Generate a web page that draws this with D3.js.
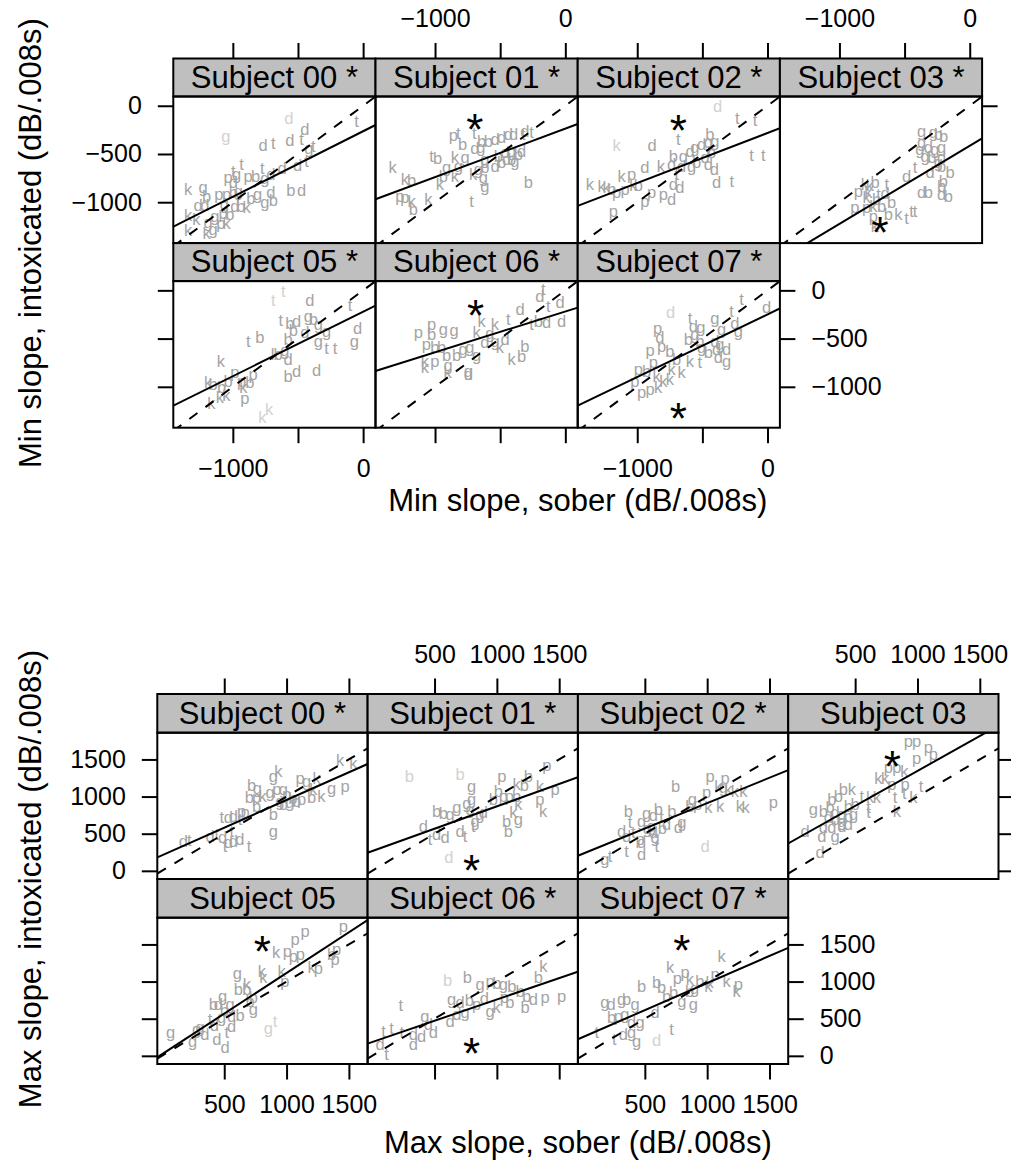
<!DOCTYPE html>
<html>
<head>
<meta charset="utf-8">
<script src="https://cdn.jsdelivr.net/npm/d3@7"></script>
<style>
  body { margin: 0; background: #fff; }
  svg { display: block; font-family: "Liberation Sans", Arial, Helvetica, sans-serif; }
</style>
</head>
<body>
<svg id="chart" width="1011" height="1175"></svg>
<script>
// ---------- Minimum slope: sober (x) vs intoxicated (y), one array per subject ----------
// [sober, intoxicated, token letter, faint flag]
const minStrips = ["Subject 00 *", "Subject 01 *", "Subject 02 *", "Subject 03 *",
                   "Subject 05 *", "Subject 06 *", "Subject 07 *"];
const minXTicks = [-1000, -500, 0];
const minXTickLabels = ["\u22121000", "", "0"];
const minYTicks = [-1000, -500, 0];
const minYTickLabels = ["\u22121000", "\u2212500", "0"];

const minS00 = [[-570,-142,"d",1],[-1053,-329,"g",1],[-50,-165,"t"],[-447,-252,"d"],[-767,-418,"d"],[-690,-397,"t"],
  [-562,-362,"d"],[-472,-356,"t"],[-416,-453,"g"],[-383,-432,"t"],[-933,-615,"t"],[-997,-684,"t"],[-971,-719,"g"],
  [-1036,-753,"p"],[-882,-743,"p"],[-826,-736,"b"],[-774,-660,"t"],[-754,-763,"g"],[-708,-718,"d"],[-621,-660,"d"],
  [-503,-625,"d"],[-434,-580,"t"],[-1343,-874,"k"],[-1228,-857,"g"],[-1202,-943,"b"],[-1107,-926,"p"],[-1048,-926,"p"],
  [-997,-902,"b"],[-958,-891,"g"],[-997,-805,"d"],[-862,-971,"b"],[-810,-926,"g"],[-708,-909,"d"],[-554,-881,"b"],
  [-472,-881,"d"],[-754,-1012,"g"],[-690,-985,"b"],[-895,-1064,"k"],[-1266,-1040,"d"],[-1215,-1040,"d"],[-1066,-1030,"g"],
  [-984,-1047,"d"],[-938,-1047,"b"],[-1343,-1144,"k"],[-1343,-1296,"k"],[-1189,-1220,"g"],[-1151,-1289,"g"],
  [-1202,-1330,"k"],[-1092,-1227,"p"],[-1048,-1227,"k"],[-1023,-1133,"b"],[-1138,-1151,"g"],[-1074,-1123,"p"],[-1279,-1186,"k"]];
const minS01 = [[-860,-314,"p"],[-822,-294,"t"],[-699,-294,"t"],[-643,-373,"b"],[-591,-373,"b"],[-540,-356,"d"],
  [-489,-338,"d"],[-438,-304,"d"],[-398,-304,"d"],[-323,-304,"t"],[-310,-270,"d"],[-259,-287,"t"],[-788,-408,"b"],
  [-648,-442,"g"],[-694,-453,"d"],[-1027,-528,"t"],[-980,-556,"b"],[-847,-546,"k"],[-770,-546,"g"],[-1326,-649,"k"],
  [-1231,-771,"k"],[-1180,-778,"b"],[-1270,-950,"p"],[-1231,-960,"p"],[-1180,-995,"k"],[-1167,-1082,"b"],[-1052,-978,"k"],
  [-911,-649,"g"],[-937,-735,"b"],[-847,-735,"k"],[-962,-822,"k"],[-822,-632,"g"],[-617,-563,"g"],[-515,-528,"b"],
  [-463,-494,"d"],[-412,-477,"g"],[-361,-511,"b"],[-335,-477,"d"],[-412,-563,"b"],[-387,-580,"g"],[-668,-666,"g"],
  [-617,-649,"b"],[-707,-718,"k"],[-630,-753,"g"],[-617,-839,"g"],[-719,-995,"t"],[-284,-805,"b"],[-540,-632,"d"],
  [-489,-598,"b"],[-450,-563,"d"]];
const minS02 = [[-383,-10,"d",1],[-232,-141,"t"],[-96,-155,"t"],[-1158,-418,"k",1],[-885,-418,"d"],[-685,-356,"t"],
  [-122,-522,"t"],[-32,-522,"t"],[-442,-304,"b"],[-723,-528,"b"],[-646,-528,"g"],[-595,-477,"d"],[-557,-442,"g"],
  [-506,-408,"d"],[-455,-390,"g"],[-404,-373,"g"],[-429,-494,"b"],[-480,-546,"d"],[-544,-598,"b"],[-583,-632,"g"],
  [-659,-632,"d"],[-818,-632,"k"],[-736,-615,"d"],[-455,-615,"d"],[-408,-666,"d"],[-697,-718,"t"],[-941,-649,"d"],
  [-723,-822,"d"],[-672,-857,"d"],[-391,-805,"d"],[-275,-788,"t"],[-1043,-718,"p"],[-1119,-735,"k"],[-1363,-822,"k"],
  [-1274,-839,"k"],[-1235,-857,"k"],[-1197,-874,"b"],[-1158,-909,"p"],[-1094,-874,"p"],[-1030,-833,"k"],[-992,-833,"b"],
  [-890,-909,"p"],[-941,-995,"p"],[-800,-926,"p"],[-736,-978,"d"],[-1184,-1099,"p"]];
const minS03 = [[-369,-269,"g"],[-279,-280,"g"],[-241,-304,"b"],[-200,-320,"b"],[-369,-390,"g"],[-382,-459,"g"],
  [-318,-442,"d"],[-267,-459,"g"],[-215,-442,"g"],[-343,-529,"g"],[-290,-546,"b"],[-215,-546,"d"],[-241,-598,"g"],
  [-420,-649,"t"],[-484,-743,"d"],[-305,-701,"d"],[-215,-632,"b"],[-151,-701,"b"],[-202,-788,"b"],[-215,-839,"b"],
  [-369,-909,"d"],[-318,-902,"b"],[-215,-926,"d"],[-164,-943,"b"],[-855,-891,"p"],[-804,-822,"k"],[-766,-833,"k"],
  [-727,-805,"b"],[-637,-822,"t"],[-881,-1064,"p"],[-791,-1064,"p"],[-740,-1047,"k"],[-791,-960,"k"],[-714,-978,"b"],
  [-676,-1047,"b"],[-599,-1012,"b"],[-548,-1134,"k"],[-484,-1178,"t"],[-446,-1099,"t"],[-420,-1099,"t"],[-740,-1151,"p"],
  [-727,-1255,"k"],[-625,-1133,"b"],[-778,-909,"k"],[-700,-930,"t"],[-650,-920,"d"]];
const minS05 = [[-690,-111,"t",1],[-613,-14,"t",1],[-408,-111,"d"],[-101,-159,"t"],[-42,-401,"d"],[-68,-540,"g"],
  [-280,-609,"t"],[-216,-609,"t"],[-344,-540,"g"],[-631,-318,"t"],[-562,-353,"b"],[-511,-325,"d"],[-421,-273,"g"],
  [-383,-308,"b"],[-344,-360,"g"],[-536,-422,"b"],[-280,-436,"g"],[-447,-446,"d"],[-575,-516,"b"],[-882,-540,"t"],
  [-792,-498,"b"],[-1092,-748,"k"],[-677,-671,"k"],[-652,-671,"b"],[-600,-630,"g"],[-575,-723,"d"],[-575,-896,"b"],
  [-511,-844,"d"],[-357,-837,"d"],[-984,-862,"p"],[-1189,-965,"k"],[-1151,-982,"b"],[-1087,-1017,"b"],[-1036,-948,"b"],
  [-933,-948,"p"],[-869,-965,"b"],[-844,-879,"p"],[-920,-1017,"k"],[-907,-1128,"p"],[-1164,-1183,"k"],[-1100,-1121,"k"],
  [-1050,-1100,"k"],[-774,-1329,"k",1],[-722,-1242,"k",1]];
const minS06 = [[-169,5,"t"],[-195,-65,"d"],[-131,-169,"t"],[-41,-135,"d"],[-348,-204,"d"],[-438,-308,"t"],
  [-259,-360,"t"],[-207,-325,"b"],[-143,-339,"d"],[-28,-329,"d"],[-1129,-446,"p"],[-1027,-360,"p"],[-1027,-467,"b"],
  [-937,-412,"g"],[-853,-422,"g"],[-1066,-571,"p"],[-1001,-602,"b"],[-950,-600,"b"],[-1078,-741,"k"],[-1001,-741,"p"],
  [-912,-685,"b"],[-835,-685,"b"],[-784,-616,"g"],[-1078,-810,"k"],[-899,-789,"g"],[-904,-862,"k"],[-732,-595,"g"],
  [-681,-685,"g"],[-643,-325,"k"],[-540,-360,"k"],[-681,-446,"k"],[-579,-456,"g"],[-617,-550,"d"],[-540,-533,"g"],
  [-463,-516,"d"],[-502,-602,"k"],[-412,-723,"k"],[-310,-585,"b"],[-335,-689,"b"],[-745,-844,"g"],[-745,-880,"d"]];
const minS07 = [[-744,-239,"d",1],[-199,-100,"t"],[-276,-221,"t"],[-7,-187,"d"],[-595,-298,"t"],[-570,-377,"d"],
  [-511,-394,"g"],[-404,-298,"g"],[-353,-411,"g"],[-250,-353,"d"],[-224,-436,"g"],[-843,-401,"p"],[-826,-498,"d"],
  [-813,-585,"p"],[-902,-630,"p"],[-608,-516,"b"],[-557,-464,"g"],[-519,-533,"b"],[-506,-602,"g"],[-455,-654,"b"],
  [-404,-533,"d"],[-365,-568,"g"],[-391,-620,"d"],[-314,-620,"d"],[-314,-741,"g"],[-378,-706,"d"],[-749,-637,"b"],
  [-698,-723,"b"],[-595,-741,"k"],[-519,-758,"t"],[-659,-862,"k"],[-736,-827,"k"],[-992,-827,"p"],[-877,-758,"p"],
  [-928,-844,"b"],[-1018,-948,"p"],[-966,-1069,"p"],[-902,-1034,"p"],[-839,-1017,"k"],[-800,-948,"k"],[-851,-896,"k"],
  [-749,-931,"k"]];
// fitted line (intoxicated = intercept + slope * sober) and marked centre per subject
const minSlope = [0.679, 0.503, 0.519, 0.809, 0.668, 0.423, 0.649];
const minIntercept = [-264, -237, -282, -416, -222, -219, -249];
const minStars = [null, [-694,-141], [-685,-148], [-689,-1214], null, [-689,-152], [-685,-1225]];

// ---------- Maximum slope ----------
const maxStrips = ["Subject 00 *", "Subject 01 *", "Subject 02 *", "Subject 03",
                   "Subject 05", "Subject 06 *", "Subject 07 *"];
const maxXTicks = [500, 1000, 1500];
const maxXTickLabels = ["500", "1000", "1500"];
const maxYTicks = [0, 500, 1000, 1500];
const maxYTickLabels = ["0", "500", "1000", "1500"];

const maxS00 = [[1429,1483,"k"],[1536,1438,"k"],[1469,1133,"p"],[1362,1097,"g"],[1215,1088,"k"],[1108,1232,"p"],
  [1161,1200,"g"],[1241,1232,"k"],[894,1258,"g"],[934,1335,"k"],[720,1142,"b"],[766,1097,"g"],[702,975,"b"],
  [759,975,"p"],[808,998,"k"],[867,1043,"g"],[921,1088,"p"],[975,1088,"g"],[1001,1021,"p"],[947,931,"g"],[974,886,"b"],
  [1027,908,"g"],[1081,931,"b"],[1121,953,"p"],[1201,975,"b"],[894,752,"b"],[894,527,"g"],[667,774,"p"],[760,864,"b"],
  [640,797,"p"],[480,707,"t"],[533,707,"d"],[573,729,"d"],[626,684,"t"],[386,460,"d"],[487,438,"d"],[560,527,"t"],
  [533,370,"d"],[573,393,"d"],[626,415,"d"],[506,325,"t"],[699,325,"t"],[172,393,"d"],[220,406,"t"],[440,480,"t"],
  [1280,1000,"k"],[1050,960,"b"]];
const maxS01 = [[298,1258,"b",1],[705,1290,"b",1],[1039,1258,"p"],[1400,1411,"p"],[1467,1088,"p"],[1253,1258,"b"],
  [1159,1156,"k"],[1220,1140,"b"],[798,1133,"g"],[798,953,"g"],[1345,1133,"k"],[1345,953,"p"],[1372,797,"k"],
  [1012,1066,"b"],[972,953,"b"],[1052,998,"p"],[1100,990,"p"],[1159,998,"b"],[1172,886,"k"],[1132,774,"k"],
  [1079,662,"b"],[1092,527,"b"],[1172,684,"g"],[678,841,"g"],[517,797,"b"],[571,765,"b"],[625,752,"g"],[864,752,"g"],
  [891,774,"d"],[825,662,"g"],[811,595,"t"],[411,586,"d"],[517,483,"d"],[584,438,"d"],[464,415,"t"],[745,460,"t"],
  [705,527,"d"],[615,168,"d",1],[785,819,"g"],[760,900,"g"]];
const maxS02 = [[1531,909,"p"],[1023,1259,"p"],[1143,1232,"p"],[1090,1133,"k"],[1130,1110,"g"],[1170,1088,"k"],
  [1223,1066,"k"],[1290,1066,"k"],[996,1043,"p"],[1263,864,"k"],[1309,841,"k"],[1103,864,"k"],[1009,841,"k"],
  [747,1124,"b"],[881,953,"g"],[862,864,"b"],[924,886,"p"],[368,797,"b"],[381,639,"t"],[515,765,"g"],[568,738,"d"],
  [609,819,"b"],[635,707,"t"],[716,797,"b"],[796,639,"g"],[769,572,"d"],[475,662,"g"],[555,595,"g"],[314,527,"d"],
  [354,460,"d"],[408,505,"t"],[461,415,"p"],[475,379,"d"],[568,505,"d"],[582,438,"g"],[595,325,"t"],[675,617,"d"],
  [354,258,"t"],[475,213,"d"],[180,146,"g"],[220,182,"t"],[983,325,"d",1],[640,560,"b"],[520,560,"g"]];
const maxS03 = [[927,1740,"p"],[994,1740,"p"],[1087,1650,"p"],[1127,1560,"p"],[994,1501,"p"],[767,1380,"p"],
  [834,1380,"p"],[895,1335,"k"],[687,1232,"k"],[740,1240,"k"],[794,1156,"p"],[901,1156,"p"],[967,976,"k"],
  [895,1034,"t"],[820,976,"t"],[834,797,"k"],[1028,1133,"t"],[406,1088,"b"],[473,1088,"k"],[366,998,"b"],[313,953,"b"],
  [553,998,"t"],[620,976,"k"],[674,976,"k"],[607,841,"t"],[607,774,"t"],[165,819,"g"],[246,797,"b"],[299,841,"b"],
  [339,774,"d"],[393,752,"g"],[446,864,"b"],[500,886,"b"],[286,707,"d"],[339,684,"b"],[393,662,"g"],[446,729,"b"],
  [487,752,"g"],[246,572,"d"],[313,572,"d"],[393,595,"d"],[446,617,"d"],[232,460,"d"],[339,460,"g"],[98,527,"d"],
  [219,235,"d"]];
const maxS05 = [[1456,1740,"p"],[1148,1672,"p"],[1068,1560,"p"],[1006,1402,"p"],[1054,1335,"p"],[1110,1360,"p"],
  [916,1380,"k"],[1362,1357,"b"],[1402,1425,"p"],[1389,1290,"p"],[1201,1178,"k"],[1255,1164,"p"],[987,998,"p"],
  [960,1133,"k"],[801,1133,"k"],[813,1043,"k"],[681,953,"k"],[605,1097,"g"],[613,886,"b"],[681,886,"b"],[733,774,"b"],
  [733,616,"g"],[707,729,"b"],[487,797,"g"],[413,684,"b"],[453,684,"d"],[546,684,"g"],[627,536,"b"],[560,527,"d"],
  [386,482,"t"],[479,505,"g"],[560,393,"d"],[520,303,"t"],[279,348,"g"],[306,370,"g"],[345,281,"d"],[247,191,"g"],
  [440,213,"d"],[506,101,"d"],[70,312,"g"],[854,357,"g",1],[908,460,"t",1],[500,600,"b"],[420,400,"d"]];
const maxS06 = [[1373,1191,"k"],[1333,1043,"b"],[1520,796,"p"],[604,1011,"b",1],[764,1043,"b"],[865,953,"g"],
  [945,998,"p"],[1000,960,"b"],[1052,953,"g"],[1120,930,"b"],[1186,864,"b"],[1239,797,"b"],[1293,752,"d"],
  [1386,782,"p"],[1226,639,"b"],[637,752,"g"],[705,707,"d"],[780,740,"b"],[838,684,"p"],[900,760,"d"],[999,639,"k"],
  [945,595,"g"],[1105,707,"b"],[1060,780,"p"],[624,460,"d"],[678,550,"d"],[745,572,"g"],[229,670,"t"],[423,527,"g"],
  [450,415,"d"],[490,303,"d"],[330,281,"d"],[396,258,"d"],[330,146,"d"],[237,303,"t"],[90,325,"t"],[156,357,"t"],
  [63,146,"d"],[116,11,"t"]];
const maxS07 = [[1116,1324,"k"],[1063,1088,"p"],[1156,999,"k"],[1237,863,"k"],[1250,954,"p"],[1020,980,"k"],
  [702,1178,"k"],[822,1111,"p"],[862,1021,"k"],[942,999,"b"],[1009,931,"k"],[760,1040,"p"],[475,931,"b"],[595,976,"b"],
  [635,909,"b"],[675,796,"b"],[796,729,"g"],[889,684,"g"],[730,840,"b"],[180,715,"g"],[229,684,"d"],[314,751,"g"],
  [354,751,"b"],[421,684,"g"],[234,504,"b"],[288,526,"p"],[340,550,"g"],[394,437,"d"],[461,437,"g"],[582,571,"d"],
  [114,303,"t"],[255,213,"t"],[328,280,"d"],[394,303,"g"],[434,191,"g"],[715,348,"t"],[595,205,"d",1],[860,860,"b"],
  [900,900,"g"]];
const maxSlope = [0.745, 0.602, 0.683, 0.941, 1.096, 0.573, 0.730];
const maxIntercept = [209, 266, 229, 404, 20, 186, 250];
const maxStars = [null, [798,145], null, [798,1546], [806,1546], [798,168], [796,1559]];

// ---------- drawing ----------
const svg = d3.select("#chart");
const defs = svg.append("defs");
const TICK = 15.5, PAD = 16;
let clipCount = 0;

function drawLattice(cfg) {
  const root = svg.append("g");
  const x = d3.scaleLinear().domain(cfg.xDomain).range([0, cfg.panelW]);
  const y = d3.scaleLinear().domain(cfg.yDomain).range([cfg.panelH, 0]);
  const ncol = 4;
  const nrow = Math.ceil(cfg.panels.length / ncol);
  const xFmt = v => cfg.xTickLabels[cfg.xTicks.indexOf(v)];
  const yFmt = v => cfg.yTickLabels[cfg.yTicks.indexOf(v)];

  function styleAxis(sel, showLabels) {
    sel.select(".domain").remove();
    sel.selectAll(".tick line").attr("stroke", "#000").attr("stroke-width", 2);
    sel.selectAll(".tick text").attr("fill", "#000").style("font-size", "25px")
      .style("font-family", '"Liberation Sans", Arial, sans-serif');
    if (!showLabels) sel.selectAll(".tick text").remove();
  }

  cfg.panels.forEach((pts, i) => {
    const col = i % ncol, row = Math.floor(i / ncol);
    const px = cfg.left + col * cfg.panelW;
    const sy = cfg.top + row * (cfg.stripH + cfg.panelH);
    const py = sy + cfg.stripH;

    // strip with subject name
    root.append("rect").attr("x", px).attr("y", sy).attr("width", cfg.panelW).attr("height", cfg.stripH)
      .attr("fill", "#bfbfbf").attr("stroke", "#000").attr("stroke-width", 2);
    root.append("text").attr("x", px + cfg.panelW / 2).attr("y", sy + cfg.stripH - 9)
      .attr("text-anchor", "middle").style("font-size", "31px").attr("fill", "#000").text(cfg.strips[i]);

    const pg = root.append("g").attr("transform", `translate(${px},${py})`);
    const cid = "panelclip" + (clipCount++);
    defs.append("clipPath").attr("id", cid).append("rect")
      .attr("width", cfg.panelW).attr("height", cfg.panelH);
    const inner = pg.append("g").attr("clip-path", `url(#${cid})`);

    // token letters
    inner.selectAll("text.pt").data(pts).join("text").attr("class", "pt")
      .attr("x", d => x(d[0])).attr("y", d => y(d[1])).attr("dy", "0.3em")
      .attr("text-anchor", "middle").style("font-size", "16.5px")
      .attr("fill", d => d[3] ? "#d2d2d2" : "#a4a4a4").text(d => d[2]);

    const [x0, x1] = cfg.xDomain;
    // identity line
    inner.append("line").attr("x1", x(x0)).attr("y1", y(x0)).attr("x2", x(x1)).attr("y2", y(x1))
      .attr("stroke", "#000").attr("stroke-width", 2).attr("stroke-dasharray", "10,10");
    // fitted line
    const b = cfg.slope[i], a = cfg.intercept[i];
    inner.append("line").attr("x1", x(x0)).attr("y1", y(a + b * x0)).attr("x2", x(x1)).attr("y2", y(a + b * x1))
      .attr("stroke", "#000").attr("stroke-width", 2);
    // marked centre
    const st = cfg.stars[i];
    if (st) {
      inner.append("text").attr("x", x(st[0])).attr("y", y(st[1])).attr("dy", "0.58em")
        .attr("text-anchor", "middle").style("font-size", "44px").attr("fill", "#000").text("*");
    }
    // panel border
    pg.append("rect").attr("width", cfg.panelW).attr("height", cfg.panelH)
      .attr("fill", "none").attr("stroke", "#000").attr("stroke-width", 2);

    // axes, alternating labels as in a trellis layout
    if (row === 0) {
      const axT = root.append("g").attr("transform", `translate(${px},${sy})`)
        .call(d3.axisTop(x).tickValues(cfg.xTicks).tickFormat(xFmt).tickSize(TICK).tickPadding(PAD));
      styleAxis(axT, col % 2 === 1);
    }
    if (row === nrow - 1) {
      const axB = root.append("g").attr("transform", `translate(${px},${py + cfg.panelH})`)
        .call(d3.axisBottom(x).tickValues(cfg.xTicks).tickFormat(xFmt).tickSize(TICK).tickPadding(PAD));
      styleAxis(axB, col % 2 === 0);
    }
    if (col === 0) {
      const axL = root.append("g").attr("transform", `translate(${px},${py})`)
        .call(d3.axisLeft(y).tickValues(cfg.yTicks).tickFormat(yFmt).tickSize(TICK).tickPadding(PAD));
      styleAxis(axL, row % 2 === 0);
    }
    const lastInRow = (col === ncol - 1) || (i === cfg.panels.length - 1);
    if (lastInRow) {
      const axR = root.append("g").attr("transform", `translate(${px + cfg.panelW},${py})`)
        .call(d3.axisRight(y).tickValues(cfg.yTicks).tickFormat(yFmt).tickSize(TICK).tickPadding(PAD));
      styleAxis(axR, row % 2 === 1);
    }
  });

  // axis titles
  const totalW = ncol * cfg.panelW;
  const totalH = nrow * (cfg.stripH + cfg.panelH);
  root.append("text").attr("x", cfg.left + totalW / 2).attr("y", cfg.xTitleY)
    .attr("text-anchor", "middle").style("font-size", "31px").attr("fill", "#000").text(cfg.xTitle);
  root.append("text")
    .attr("transform", `translate(${cfg.yTitleX},${cfg.top + totalH / 2}) rotate(-90)`)
    .attr("text-anchor", "middle").style("font-size", "31px").attr("fill", "#000").text(cfg.yTitle);
}

drawLattice({
  left: 173.3, top: 58.5, panelW: 202.2, panelH: 146.6, stripH: 38,
  xDomain: [-1457, 95], yDomain: [-1424, 96],
  xTicks: minXTicks, xTickLabels: minXTickLabels, yTicks: minYTicks, yTickLabels: minYTickLabels,
  panels: [minS00, minS01, minS02, minS03, minS05, minS06, minS07],
  strips: minStrips, slope: minSlope, intercept: minIntercept, stars: minStars,
  xTitle: "Min slope, sober (dB/.008s)", xTitleY: 511,
  yTitle: "Min slope, intoxicated (dB/.008s)", yTitleX: 41
});

drawLattice({
  left: 157.3, top: 694, panelW: 210.3, panelH: 146.3, stripH: 38.7,
  xDomain: [-37, 1650], yDomain: [-110, 1860],
  xTicks: maxXTicks, xTickLabels: maxXTickLabels, yTicks: maxYTicks, yTickLabels: maxYTickLabels,
  panels: [maxS00, maxS01, maxS02, maxS03, maxS05, maxS06, maxS07],
  strips: maxStrips, slope: maxSlope, intercept: maxIntercept, stars: maxStars,
  xTitle: "Max slope, sober (dB/.008s)", xTitleY: 1153,
  yTitle: "Max slope, intoxicated (dB/.008s)", yTitleX: 41
});
</script>
</body>
</html>
